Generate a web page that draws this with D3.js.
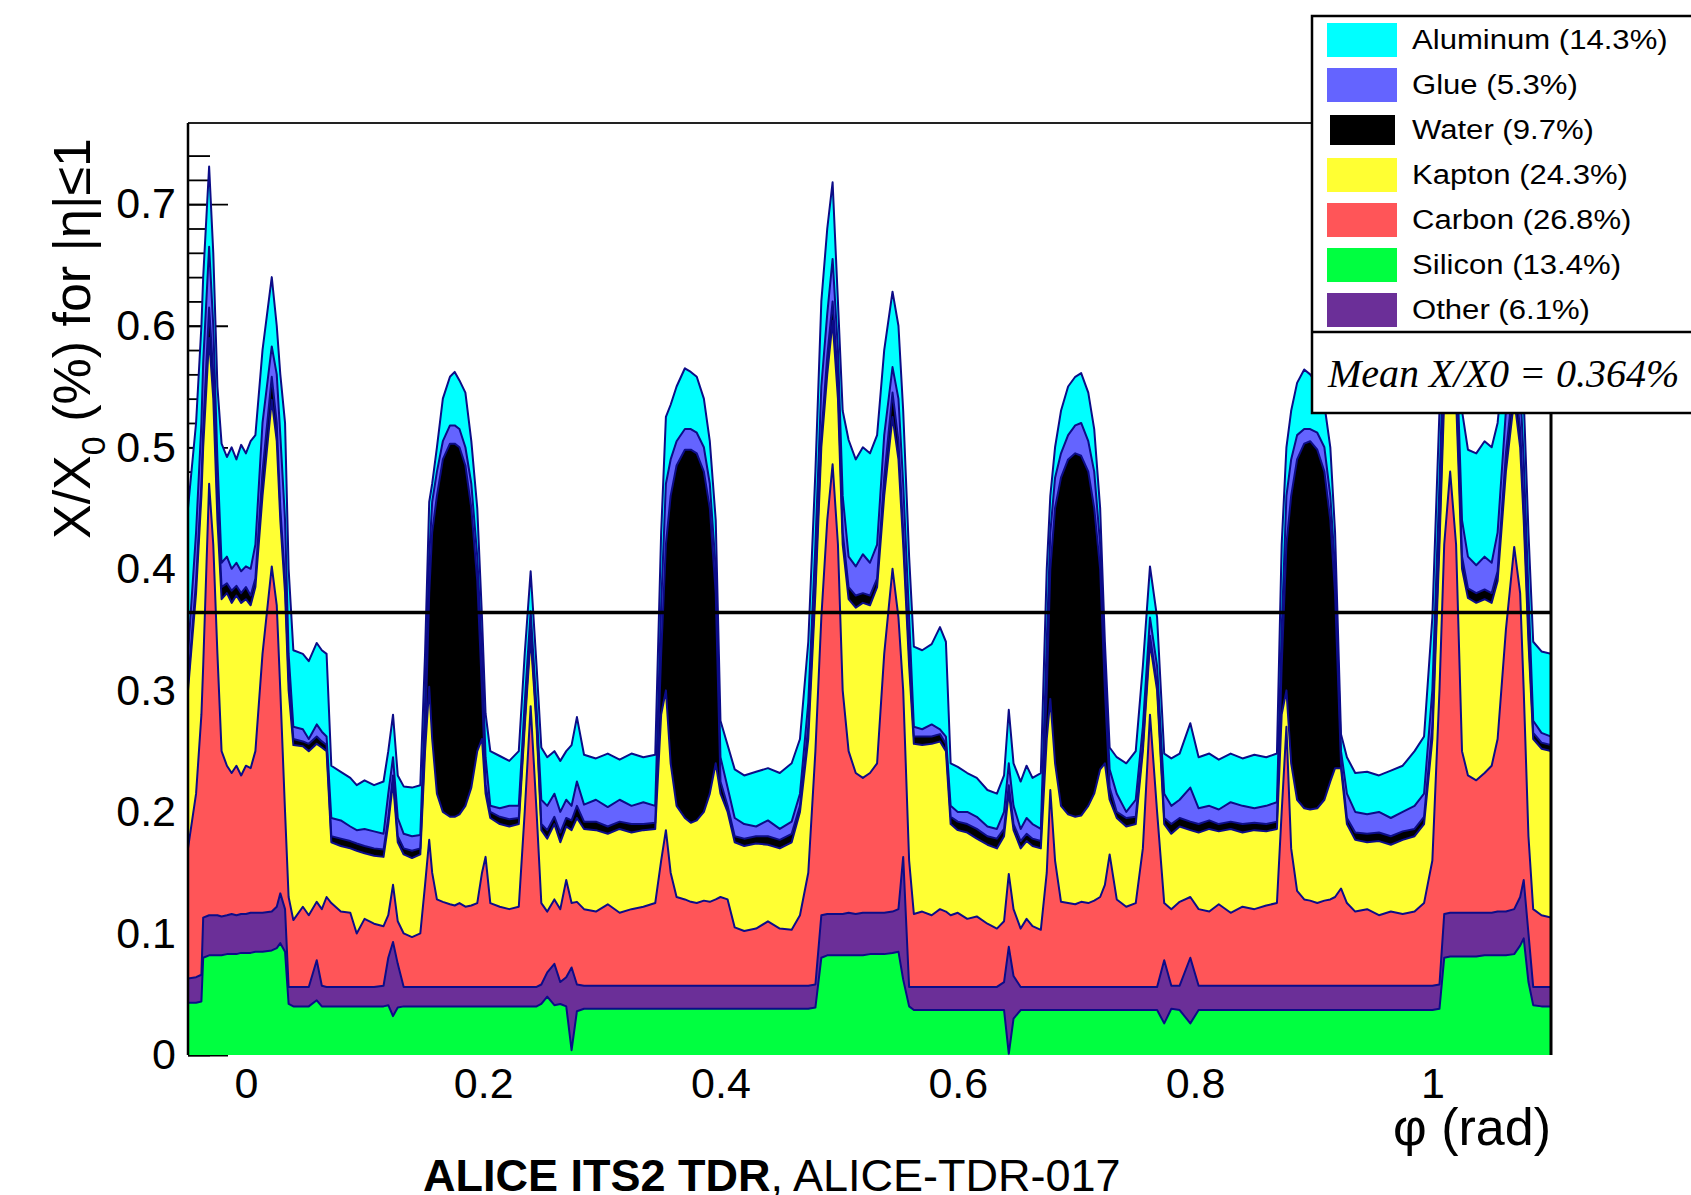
<!DOCTYPE html>
<html>
<head>
<meta charset="utf-8">
<script src="https://cdn.jsdelivr.net/npm/d3@7"></script>
<style>
  html, body { margin: 0; padding: 0; background: #ffffff; }
  svg { display: block; }
</style>
</head>
<body>
<svg id="chart" width="1691" height="1195"></svg>
<script>
// Azimuthal scan of the material budget, |eta| <= 1.
// Each array holds the upper edge of a material band in the stacked
// X/X0 (%) distribution, sampled at the angles in `phi`.

const phi = [
  -0.0488,-0.042,-0.0375,-0.036,-0.031,-0.0275,-0.024,-0.0205,-0.016,-0.012,
  -0.008,-0.004,0,0.004,0.008,0.014,0.0218,0.026,0.029,0.033,
  0.036,0.04,0.048,0.053,0.0597,0.064,0.068,0.072,0.08,0.088,
  0.0934,0.1,0.108,0.116,0.12,0.124,0.128,0.133,0.14,0.147,
  0.151,0.1545,0.157,0.161,0.166,0.172,0.176,0.18,0.185,0.19,
  0.195,0.199,0.202,0.206,0.214,0.222,0.23,0.235,0.24,0.245,
  0.249,0.254,0.26,0.265,0.27,0.2745,0.279,0.285,0.295,0.305,
  0.315,0.325,0.335,0.345,0.35,0.354,0.358,0.363,0.37,0.375,
  0.38,0.386,0.391,0.396,0.4,0.406,0.412,0.42,0.43,0.44,
  0.45,0.46,0.467,0.474,0.48,0.485,0.49,0.4945,0.499,0.503,
  0.508,0.514,0.52,0.526,0.532,0.538,0.545,0.55,0.554,0.559,
  0.563,0.57,0.578,0.585,0.59,0.594,0.6,0.608,0.616,0.625,
  0.633,0.639,0.643,0.647,0.653,0.658,0.663,0.67,0.675,0.678,
  0.682,0.687,0.693,0.699,0.704,0.71,0.715,0.72,0.724,0.728,
  0.734,0.742,0.75,0.756,0.762,0.768,0.774,0.78,0.787,0.796,
  0.803,0.812,0.82,0.83,0.84,0.85,0.86,0.869,0.873,0.877,
  0.881,0.886,0.892,0.897,0.903,0.909,0.914,0.918,0.923,0.928,
  0.935,0.945,0.955,0.965,0.975,0.985,0.993,1.0,1.006,1.01,
  1.015,1.02,1.025,1.03,1.037,1.044,1.05,1.055,1.062,1.069,
  1.074,1.077,1.081,1.085,1.092,1.1
];

const topSilicon = [
  .043,.043,.044,.080,.082,.082,.082,.082,.083,.083,
  .083,.084,.084,.084,.085,.085,.086,.088,.092,.085,
  .042,.040,.040,.040,.045,.040,.040,.040,.040,.040,
  .040,.040,.040,.040,.041,.032,.039,.040,.040,.040,
  .040,.040,.040,.040,.040,.040,.040,.040,.040,.040,
  .040,.040,.040,.040,.040,.040,.040,.040,.040,.040,
  .042,.048,.041,.042,.040,.004,.036,.038,.038,.038,
  .038,.038,.038,.038,.038,.038,.038,.038,.038,.038,
  .038,.038,.038,.038,.038,.038,.038,.038,.038,.038,
  .038,.038,.038,.038,.039,.080,.082,.082,.082,.082,
  .082,.082,.082,.083,.083,.083,.084,.085,.062,.040,
  .037,.037,.037,.037,.037,.037,.037,.037,.037,.037,
  .037,.037,.001,.030,.037,.037,.037,.037,.037,.037,
  .037,.037,.037,.037,.037,.037,.037,.037,.037,.037,
  .037,.037,.037,.037,.037,.037,.026,.038,.037,.026,
  .037,.037,.037,.037,.037,.037,.037,.037,.037,.037,
  .037,.037,.037,.037,.037,.037,.037,.037,.037,.037,
  .037,.037,.037,.037,.037,.037,.037,.037,.038,.080,
  .081,.081,.081,.081,.081,.082,.082,.082,.082,.083,
  .090,.096,.060,.041,.040,.040
];

const topOther = [
  .063,.064,.066,.113,.115,.115,.115,.114,.115,.116,
  .115,.116,.116,.117,.117,.117,.118,.122,.133,.120,
  .056,.056,.056,.056,.078,.057,.056,.056,.056,.056,
  .056,.056,.056,.057,.080,.093,.075,.056,.056,.056,
  .056,.056,.056,.056,.056,.056,.056,.056,.056,.056,
  .056,.056,.056,.056,.056,.056,.056,.056,.056,.056,
  .058,.068,.075,.060,.064,.072,.058,.057,.057,.057,
  .057,.057,.057,.057,.057,.057,.057,.057,.057,.057,
  .057,.057,.057,.057,.057,.057,.057,.057,.057,.057,
  .057,.057,.057,.057,.058,.115,.116,.116,.116,.116,
  .117,.116,.117,.117,.117,.117,.118,.120,.163,.056,
  .056,.056,.056,.056,.056,.056,.056,.056,.056,.056,
  .056,.060,.089,.065,.056,.056,.056,.056,.056,.056,
  .056,.056,.056,.056,.056,.056,.056,.056,.056,.056,
  .056,.056,.056,.056,.056,.056,.078,.057,.057,.080,
  .057,.057,.057,.057,.057,.057,.057,.057,.057,.057,
  .057,.057,.057,.057,.057,.057,.057,.057,.057,.057,
  .057,.057,.057,.057,.057,.057,.057,.057,.058,.116,
  .117,.117,.117,.117,.117,.117,.117,.118,.118,.120,
  .130,.144,.100,.056,.056,.056
];

const topCarbon = [
  .170,.215,.280,.320,.470,.420,.330,.250,.238,.232,
  .238,.230,.238,.236,.250,.330,.402,.370,.300,.200,
  .130,.111,.122,.115,.126,.120,.130,.125,.118,.117,
  .100,.112,.108,.106,.115,.140,.110,.100,.097,.100,
  .140,.177,.150,.128,.126,.124,.123,.125,.122,.123,
  .125,.150,.163,.125,.122,.120,.122,.200,.287,.200,
  .125,.118,.128,.120,.144,.125,.126,.120,.118,.124,
  .117,.120,.122,.125,.160,.185,.150,.130,.128,.126,
  .125,.127,.126,.128,.130,.128,.105,.102,.104,.110,
  .104,.103,.115,.150,.250,.360,.440,.486,.420,.300,
  .250,.232,.228,.232,.240,.330,.400,.360,.300,.160,
  .116,.118,.115,.120,.118,.115,.117,.112,.114,.108,
  .104,.110,.149,.120,.104,.112,.106,.103,.150,.218,
  .160,.126,.125,.124,.126,.125,.127,.130,.140,.165,
  .128,.122,.125,.170,.280,.200,.125,.120,.126,.130,
  .120,.118,.124,.117,.122,.120,.123,.125,.200,.270,
  .170,.135,.128,.127,.125,.127,.128,.130,.137,.125,
  .118,.120,.115,.118,.116,.118,.125,.160,.300,.420,
  .480,.420,.250,.230,.226,.232,.238,.260,.350,.418,
  .380,.300,.180,.120,.115,.113
];

const topKapton = [
  .300,.380,.460,.500,.590,.540,.440,.375,.380,.372,
  .378,.372,.375,.370,.385,.460,.539,.505,.440,.380,
  .300,.255,.254,.250,.256,.253,.250,.175,.172,.170,
  .168,.166,.164,.163,.190,.225,.175,.165,.162,.165,
  .250,.303,.260,.215,.200,.196,.196,.198,.205,.220,
  .250,.260,.215,.195,.190,.188,.190,.270,.344,.270,
  .185,.178,.190,.175,.188,.185,.195,.186,.185,.182,
  .186,.183,.185,.186,.280,.300,.240,.205,.195,.191,
  .193,.200,.215,.240,.215,.200,.175,.172,.174,.173,
  .170,.175,.200,.260,.380,.500,.560,.604,.540,.420,
  .375,.368,.372,.370,.385,.460,.525,.490,.420,.320,
  .256,.255,.256,.258,.250,.190,.185,.183,.178,.173,
  .170,.180,.216,.185,.170,.176,.172,.170,.260,.293,
  .240,.205,.198,.196,.197,.205,.215,.235,.240,.210,
  .195,.188,.190,.250,.339,.300,.190,.182,.188,.185,
  .183,.186,.184,.186,.183,.185,.184,.186,.280,.300,
  .240,.210,.203,.202,.203,.210,.225,.236,.236,.190,
  .177,.175,.176,.173,.177,.180,.190,.260,.420,.540,
  .600,.540,.400,.376,.372,.375,.372,.390,.480,.540,
  .500,.440,.340,.260,.252,.250
];

const topWater = [
  .305,.390,.470,.515,.615,.560,.455,.385,.388,.382,
  .386,.380,.385,.378,.392,.480,.558,.520,.450,.390,
  .310,.260,.258,.256,.262,.258,.255,.180,.178,.176,
  .174,.172,.170,.169,.195,.230,.180,.170,.168,.170,
  .260,.380,.430,.460,.490,.503,.503,.500,.485,.450,
  .390,.300,.222,.200,.196,.194,.195,.275,.350,.275,
  .190,.185,.196,.183,.195,.193,.205,.192,.192,.188,
  .192,.190,.190,.191,.330,.420,.460,.485,.498,.498,
  .495,.480,.450,.380,.225,.205,.180,.178,.180,.180,
  .177,.182,.205,.270,.390,.510,.575,.620,.555,.430,
  .385,.378,.380,.378,.392,.475,.545,.505,.430,.330,
  .262,.262,.262,.264,.256,.196,.192,.190,.186,.180,
  .178,.186,.222,.190,.176,.182,.178,.176,.300,.400,
  .450,.475,.490,.495,.493,.480,.450,.400,.300,.220,
  .200,.195,.196,.255,.345,.305,.195,.190,.195,.192,
  .190,.193,.190,.192,.190,.191,.190,.192,.320,.420,
  .460,.490,.503,.505,.498,.480,.440,.380,.240,.195,
  .183,.182,.183,.180,.184,.186,.196,.270,.430,.555,
  .620,.555,.410,.384,.380,.383,.380,.398,.495,.560,
  .515,.450,.350,.265,.257,.255
];

const topGlue = [
  .330,.430,.520,.570,.665,.600,.490,.405,.410,.400,
  .405,.398,.402,.400,.420,.520,.583,.560,.510,.440,
  .330,.270,.268,.260,.272,.266,.262,.195,.193,.188,
  .185,.186,.184,.182,.215,.245,.195,.182,.180,.181,
  .290,.410,.455,.480,.505,.518,.518,.515,.500,.470,
  .410,.330,.245,.205,.203,.205,.205,.290,.365,.285,
  .210,.205,.215,.200,.210,.205,.225,.206,.210,.204,
  .210,.205,.208,.205,.370,.470,.490,.505,.515,.515,
  .512,.500,.470,.400,.245,.220,.195,.190,.188,.193,
  .186,.192,.215,.290,.420,.550,.610,.655,.580,.460,
  .410,.402,.412,.405,.420,.510,.566,.540,.470,.360,
  .270,.268,.272,.268,.262,.205,.200,.200,.196,.188,
  .186,.200,.240,.205,.186,.195,.190,.186,.340,.430,
  .475,.495,.510,.518,.520,.505,.480,.420,.320,.235,
  .215,.200,.210,.270,.360,.320,.215,.205,.210,.220,
  .203,.205,.202,.208,.205,.203,.205,.208,.350,.460,
  .490,.510,.515,.515,.512,.500,.460,.400,.250,.215,
  .200,.198,.200,.195,.200,.205,.215,.300,.470,.600,
  .660,.590,.440,.410,.403,.410,.405,.430,.530,.585,
  .550,.490,.380,.275,.265,.262
];

const topAluminum = [
  .450,.520,.600,.640,.731,.660,.550,.503,.492,.500,
  .490,.502,.495,.505,.510,.580,.640,.600,.560,.520,
  .400,.333,.330,.324,.339,.333,.330,.238,.233,.228,
  .222,.226,.222,.225,.250,.280,.230,.221,.220,.222,
  .330,.455,.470,.500,.540,.558,.562,.555,.545,.505,
  .450,.360,.281,.250,.246,.242,.250,.330,.398,.320,
  .253,.245,.250,.242,.250,.255,.278,.247,.244,.248,
  .243,.248,.245,.247,.430,.525,.535,.550,.565,.562,
  .558,.540,.505,.440,.275,.255,.235,.230,.233,.236,
  .232,.240,.260,.340,.480,.620,.680,.718,.620,.530,
  .506,.490,.500,.495,.510,.580,.628,.600,.530,.410,
  .336,.333,.338,.352,.340,.240,.237,.232,.228,.218,
  .215,.230,.284,.240,.225,.238,.228,.232,.400,.460,
  .500,.530,.550,.558,.561,.545,.515,.450,.340,.253,
  .245,.240,.250,.320,.402,.360,.248,.244,.248,.273,
  .245,.248,.243,.248,.244,.247,.245,.248,.420,.500,
  .530,.553,.564,.560,.552,.535,.500,.430,.264,.245,
  .232,.233,.230,.234,.238,.250,.262,.360,.530,.660,
  .720,.640,.530,.498,.495,.505,.500,.520,.590,.635,
  .600,.540,.430,.340,.332,.330
];

// Legend entries (top to bottom) and their share of the mean budget
const legendNames  = ["Aluminum", "Glue", "Water", "Kapton", "Carbon", "Silicon", "Other"];
const legendShares = [14.3, 5.3, 9.7, 24.3, 26.8, 13.4, 6.1];
const meanX0 = 0.364;

const xTicks = [0, 0.2, 0.4, 0.6, 0.8, 1];
const yTicks = [0, 0.1, 0.2, 0.3, 0.4, 0.5, 0.6, 0.7];

// ---------------------------------------------------------------
const colors = {
  Aluminum: "#00ffff",
  Glue:     "#6464ff",
  Water:    "#000000",
  Kapton:   "#ffff33",
  Carbon:   "#ff5558",
  Silicon:  "#00ff40",
  Other:    "#6b2f98"
};
const bandTops = {
  Aluminum: topAluminum, Glue: topGlue, Water: topWater, Kapton: topKapton,
  Carbon: topCarbon, Other: topOther, Silicon: topSilicon
};
// painted from the highest cumulative edge down to the lowest
const drawOrder = ["Aluminum", "Glue", "Water", "Kapton", "Carbon", "Other", "Silicon"];

const W = 1691, H = 1195;
const plot = { left: 188, right: 1551, top: 123, bottom: 1055 };
const sans = "'Liberation Sans', Arial, Helvetica, sans-serif";
const serif = "'Liberation Serif', 'Times New Roman', serif";

const svg = d3.select("#chart");
svg.append("rect").attr("width", W).attr("height", H).attr("fill", "#fff");

const x = d3.scaleLinear().domain([-0.0488, 1.1]).range([plot.left, plot.right]);
const y = d3.scaleLinear().domain([0, 0.7668]).range([plot.bottom, plot.top]);

// --- axis ticks (painted first, so the filled bands cover them) ---
const minorTicks = d3.range(0, 38).map(i => +(i * 0.02).toFixed(2));
const yMinor = svg.append("g")
  .attr("transform", `translate(${plot.left},0)`)
  .call(d3.axisLeft(y).tickValues(minorTicks).tickSize(-22).tickFormat(""));
yMinor.select(".domain").remove();
yMinor.selectAll("line").attr("stroke", "#000").attr("stroke-width", 1.8);

const yAxis = svg.append("g")
  .attr("transform", `translate(${plot.left},0)`)
  .call(d3.axisLeft(y).tickValues(yTicks).tickSize(-40).tickPadding(12)
        .tickFormat(d => d === 0 ? "0" : d3.format(".1f")(d)));
yAxis.select(".domain").remove();
yAxis.selectAll("line").attr("stroke", "#000").attr("stroke-width", 1.8);
yAxis.selectAll("text").attr("font-family", sans).attr("font-size", 43).attr("fill", "#000");

const xAxis = svg.append("g")
  .attr("transform", `translate(0,${plot.bottom})`)
  .call(d3.axisBottom(x).tickValues(xTicks).tickSize(-40).tickPadding(12.5)
        .tickFormat(d => d === 0 ? "0" : (d === 1 ? "1" : d3.format(".1f")(d))));
xAxis.select(".domain").remove();
xAxis.selectAll("line").attr("stroke", "#000").attr("stroke-width", 1.8);
xAxis.selectAll("text").attr("font-family", sans).attr("font-size", 43).attr("fill", "#000");

// --- stacked material bands ---
svg.append("defs").append("clipPath").attr("id", "plotClip")
  .append("rect")
  .attr("x", plot.left).attr("y", plot.top)
  .attr("width", plot.right - plot.left).attr("height", plot.bottom - plot.top);

const idx = d3.range(phi.length);
const bands = svg.append("g").attr("clip-path", "url(#plotClip)");

drawOrder.forEach(name => {
  const tops = bandTops[name];
  const area = d3.area()
    .x(i => x(phi[i]))
    .y0(y(0))
    .y1(i => y(tops[i]));
  bands.append("path")
    .datum(idx)
    .attr("d", area)
    .attr("fill", colors[name]);
});

// band edges, drawn in dark blue like the histogram outlines
drawOrder.forEach(name => {
  const tops = bandTops[name];
  const line = d3.line().x(i => x(phi[i])).y(i => y(tops[i]));
  bands.append("path")
    .datum(idx)
    .attr("d", line)
    .attr("fill", "none")
    .attr("stroke", "#0c0c88")
    .attr("stroke-width", 2)
    .attr("stroke-linejoin", "round");
});

// --- mean X/X0 line ---
svg.append("line")
  .attr("x1", plot.left).attr("x2", plot.right)
  .attr("y1", y(meanX0)).attr("y2", y(meanX0))
  .attr("stroke", "#000").attr("stroke-width", 3.5);

// --- frame ---
svg.append("line").attr("x1", plot.left).attr("x2", plot.right)
  .attr("y1", plot.top).attr("y2", plot.top)
  .attr("stroke", "#222").attr("stroke-width", 2);
svg.append("line").attr("x1", plot.right).attr("x2", plot.right)
  .attr("y1", plot.top).attr("y2", plot.bottom)
  .attr("stroke", "#000").attr("stroke-width", 3);
svg.append("line").attr("x1", plot.left).attr("x2", plot.left)
  .attr("y1", plot.top).attr("y2", plot.bottom)
  .attr("stroke", "#000").attr("stroke-width", 2.5);

// --- axis titles ---
const yTitle = svg.append("text")
  .attr("transform", `translate(90,138) rotate(-90)`)
  .attr("text-anchor", "end")
  .attr("font-family", sans).attr("font-size", 52).attr("fill", "#000");
yTitle.append("tspan").text("X/X");
yTitle.append("tspan").attr("font-size", 34).attr("dy", 15).text("0");
yTitle.append("tspan").attr("dy", -15).text(" (%) for |η|≤1");

svg.append("text")
  .attr("x", plot.right).attr("y", 1145)
  .attr("text-anchor", "end")
  .attr("font-family", sans).attr("font-size", 52).attr("fill", "#000")
  .text("φ (rad)");

// --- legend ---
const legend = svg.append("g");
legend.append("rect")
  .attr("x", 1312).attr("y", 16).attr("width", 420).attr("height", 397)
  .attr("fill", "#fff").attr("stroke", "#000").attr("stroke-width", 2.5);
legend.append("line")
  .attr("x1", 1312).attr("x2", 1732).attr("y1", 332).attr("y2", 332)
  .attr("stroke", "#000").attr("stroke-width", 2.5);

legendNames.forEach((name, i) => {
  const cy = 40 + i * 45;
  const isWater = name === "Water";
  legend.append("rect")
    .attr("x", isWater ? 1330 : 1327)
    .attr("y", cy - (isWater ? 15 : 17))
    .attr("width", isWater ? 65 : 70)
    .attr("height", isWater ? 30 : 34)
    .attr("fill", colors[name]);
  legend.append("text")
    .attr("transform", `translate(1412,${cy + 8.5}) scale(1.11,1)`)
    .attr("font-family", sans).attr("font-size", 28).attr("fill", "#000")
    .text(`${name} (${legendShares[i]}%)`);
});

legend.append("text")
  .attr("x", 1328).attr("y", 387)
  .attr("font-family", serif).attr("font-style", "italic")
  .attr("font-size", 40).attr("fill", "#000")
  .text(`Mean X/X0 = ${meanX0}%`);

// --- caption ---
const caption = svg.append("text")
  .attr("x", 423).attr("y", 1191)
  .attr("font-family", sans).attr("font-size", 45).attr("fill", "#000");
caption.append("tspan").attr("font-weight", "bold").text("ALICE ITS2 TDR");
caption.append("tspan").text(", ALICE-TDR-017");
</script>
</body>
</html>
